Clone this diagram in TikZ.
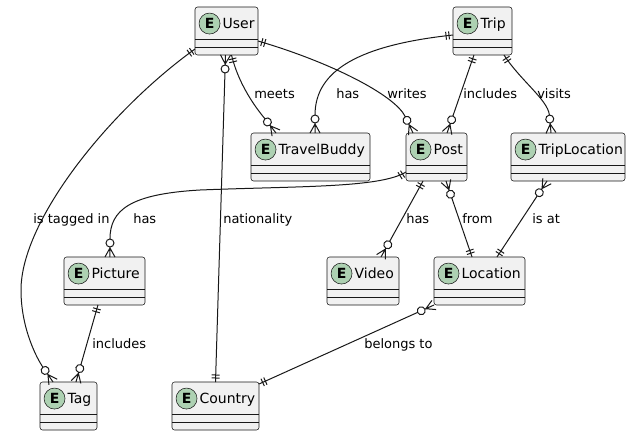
\documentclass[tikz,border=0pt]{standalone}
\usepackage{fontspec}
\setmainfont{DejaVu Sans}
\usepackage{tikz}
\usetikzlibrary{arrows.meta}
\definecolor{boxfill}{HTML}{F1F1F1}
\definecolor{boxline}{HTML}{181818}
\definecolor{spotfill}{HTML}{ADD1B2}

% exactly one: two bars
\pgfdeclarearrow{
  name = erone,
  setup code = {
    \pgfarrowssettipend{0pt}
    \pgfarrowssetlineend{0pt}
    \pgfarrowssetbackend{-6pt}
    \pgfarrowsupperhullpoint{-6pt}{3pt}
    \pgfarrowsupperhullpoint{0pt}{3pt}
  },
  drawing code = {
    \pgfsetdash{}{0pt}
    \pgfpathmoveto{\pgfqpoint{-3pt}{-3pt}}
    \pgfpathlineto{\pgfqpoint{-3pt}{3pt}}
    \pgfpathmoveto{\pgfqpoint{-5.25pt}{-3pt}}
    \pgfpathlineto{\pgfqpoint{-5.25pt}{3pt}}
    \pgfusepathqstroke
  },
}
% zero or many: circle and crow's foot
\pgfdeclarearrow{
  name = zmany,
  setup code = {
    \pgfarrowssettipend{0pt}
    \pgfarrowssetlineend{-13.5pt}
    \pgfarrowssetbackend{-13.5pt}
    \pgfarrowsupperhullpoint{-13.5pt}{3.75pt}
    \pgfarrowsupperhullpoint{0pt}{3.75pt}
  },
  drawing code = {
    \pgfsetdash{}{0pt}
    \pgfpathcircle{\pgfqpoint{-10.5pt}{0pt}}{3pt}
    \pgfpathmoveto{\pgfqpoint{-7.5pt}{0pt}}
    \pgfpathlineto{\pgfqpoint{0pt}{0pt}}
    \pgfpathmoveto{\pgfqpoint{0pt}{3.75pt}}
    \pgfpathlineto{\pgfqpoint{-6.75pt}{0pt}}
    \pgfpathlineto{\pgfqpoint{0pt}{-3.75pt}}
    \pgfusepathqstroke
  },
}

\tikzset{
  entity box/.style={draw=boxline, fill=boxfill, line width=0.4pt,
    rounded corners=1.9pt, minimum height=36pt, inner sep=0pt, outer sep=0pt},
  entity sep/.style={draw=boxline, line width=0.4pt},
  entity spot/.style={circle, draw=boxline, fill=spotfill, line width=0.4pt,
    minimum size=15.75pt, inner sep=0pt, font=\fontsize{10.5}{12}\selectfont\bfseries},
  entity name/.style={anchor=base west, inner sep=0pt, font=\fontsize{10.5}{12}\selectfont},
  rel/.style={draw=boxline, line width=0.75pt},
  rel label/.style={anchor=base west, inner sep=0pt, font=\fontsize{9.75}{11}\selectfont},
}

% name, x, y, width (px), text
\newcommand{\entity}[5]{%
  \node[entity box, minimum width=#4*0.75pt, anchor=north west] (#1) at (#2,#3) {};
  \draw[entity sep] ([yshift=-24pt]#1.north west) -- ([yshift=-24pt]#1.north east)
                    ([yshift=-30pt]#1.north west) -- ([yshift=-30pt]#1.north east);
  \node[entity spot] (#1 spot) at ([xshift=10.9pt,yshift=-12.4pt]#1.north west) {E};
  \node[entity name] (#1 name) at ([xshift=20.5pt,yshift=-16pt]#1.north west) {#5};
}

\begin{document}
\begin{tikzpicture}[x=0.75pt, y=-0.75pt]
  \useasboundingbox (0,0) rectangle (634,436);

  % entities
  \entity{user}{195}{7}{63}{User}
  \entity{trip}{453}{7}{59}{Trip}
  \entity{buddy}{251}{133}{119}{TravelBuddy}
  \entity{post}{406}{133}{61}{Post}
  \entity{tripLoc}{511}{133}{114}{TripLocation}
  \entity{picture}{64}{257}{81}{Picture}
  \entity{video}{327}{257}{72}{Video}
  \entity{location}{434}{257}{91}{Location}
  \entity{tag}{40}{382}{57}{Tag}
  \entity{country}{172}{382}{87}{Country}

  % User relations
  \draw[rel, erone-zmany] ([yshift=-13.5pt]user.west)
        .. controls (110,110) and (21,220) .. (21,290)
        .. controls (21,330) and (38,360) .. ([xshift=-11.6pt]tag.north);
  \draw[rel, zmany-erone] ([xshift=-0.75pt]user.south) -- (country.north);
  \draw[rel, erone-zmany] ([xshift=3.75pt]user.south)
        .. controls (240,90) and (262,115) .. ([xshift=18.75pt]buddy.north west);
  \draw[rel, erone-zmany] ([yshift=-7.5pt]user.east)
        .. controls (330,62) and (395,95) .. ([xshift=5.25pt]post.north west);

  % Trip relations
  \draw[rel, erone-zmany] ([yshift=-3pt]trip.west)
        .. controls (360,45) and (315,70) .. ([xshift=3.4pt]buddy.north);
  \draw[rel, erone-zmany] ([xshift=-6.4pt]trip.south) -- ([xshift=7.9pt]post.north);
  \draw[rel, erone-zmany] ([xshift=16.1pt]trip.south)
        .. controls (520,80) and (548,100) .. ([xshift=-12.75pt]tripLoc.north);

  % Post relations
  \draw[rel, erone-zmany] ([yshift=-11.25pt]post.west)
        .. controls (380,188) and (300,186) .. (200,190)
        .. controls (130,194) and (110,210) .. ([xshift=4.1pt]picture.north);
  \draw[rel, erone-zmany] ([xshift=-10.1pt]post.south) -- ([xshift=13.5pt]video.north);
  \draw[rel, zmany-erone] ([xshift=7.1pt]post.south) -- ([xshift=-5.6pt]location.north);
  \draw[rel, zmany-erone] ([xshift=-15.75pt]tripLoc.south) -- ([xshift=13.1pt]location.north);

  % lower relations
  \draw[rel, erone-zmany] ([xshift=-4.9pt]picture.south) -- ([xshift=5.6pt]tag.north);
  \draw[rel, zmany-erone] (location.south west) -- ([yshift=-1.5pt]country.north east);

  % labels
  \node[rel label] (lbl meets) at (254,98) {meets};
  \node[rel label] (lbl buddy) at (336,98) {has};
  \node[rel label] (lbl writes) at (387,98) {writes};
  \node[rel label] (lbl includes) at (463,98) {includes};
  \node[rel label] (lbl visits) at (537,98) {visits};
  \node[rel label] (lbl tagged) at (33,223) {is tagged in};
  \node[rel label] (lbl picture) at (133,223) {has};
  \node[rel label] (lbl nation) at (223,223) {nationality};
  \node[rel label] (lbl video) at (406,223) {has};
  \node[rel label] (lbl from) at (462,223) {from};
  \node[rel label] (lbl isat) at (532,223) {is at};
  \node[rel label] (lbl tags) at (92,348) {includes};
  \node[rel label] (lbl belongs) at (364,348) {belongs to};
\end{tikzpicture}
\end{document}
